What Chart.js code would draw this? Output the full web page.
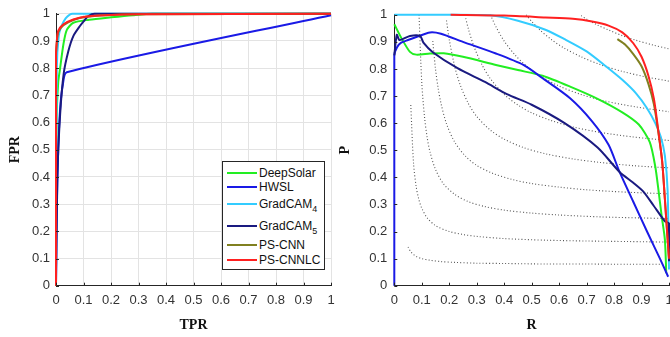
<!DOCTYPE html>
<html>
<head>
<meta charset="utf-8">
<script src="https://cdn.jsdelivr.net/npm/chart.js@4/dist/chart.umd.min.js"></script>
<style>
  html, body { margin: 0; padding: 0; background: #fff; overflow: hidden; width: 670px; height: 337px; }
  #wrap { position: relative; width: 670px; height: 337px; overflow: hidden; }
  #c1 { position: absolute; left: 0; top: 0; }
  #c2 { position: absolute; left: 335px; top: 0; }
  #legend { position: absolute; left: 222px; top: 161px; width: 101px; height: 107px; border: 1px solid #262626; background: #fff; font-family: "Liberation Sans", Arial, sans-serif; font-size: 12px; color: #111; }
  .row { position: absolute; left: 0; height: 14px; display: flex; align-items: center; }
  .sw { width: 30px; height: 2px; margin-left: 4px; margin-right: 2px; }
  .row sub { font-size: 9px; vertical-align: -4px; line-height: 0; }
</style>
</head>
<body>
<div id="wrap">
  <canvas id="c1" width="335" height="337"></canvas>
  <canvas id="c2" width="345" height="337"></canvas>
  <div id="legend"></div>
</div>
<script>
// ---------------- data ----------------
const seriesNames = ['DeepSolar', 'HWSL', 'GradCAM4', 'GradCAM5', 'PS-CNN', 'PS-CNNLC'];
const legendBase = ['DeepSolar', 'HWSL', 'GradCAM', 'GradCAM', 'PS-CNN', 'PS-CNNLC'];
const legendSub = ['', '', '4', '5', '', ''];
const seriesColors = ['#22ee22', '#1a1ae6', '#33ccff', '#1a1a80', '#808020', '#ff2020'];
const tickLabels = ['0', '0.1', '0.2', '0.3', '0.4', '0.5', '0.6', '0.7', '0.8', '0.9', '1'];

// left panel (x: TPR, y: FPR)
const rocDeepSolarX = [0, 0.002, 0.008, 0.015, 0.027, 0.039, 0.063, 0.12, 0.2, 0.28, 0.35, 1];
const rocDeepSolarY = [0, 0.6, 0.747, 0.8, 0.888, 0.94, 0.967, 0.978, 0.987, 0.995, 1, 1];
const rocHWSLX = [0, 0.003, 0.008, 0.015, 0.025, 0.039, 1];
const rocHWSLY = [0, 0.3, 0.5, 0.65, 0.74, 0.785, 0.995];
const rocGradCAM4X = [0, 0.003, 0.01, 0.02, 0.035, 0.05, 0.06, 1];
const rocGradCAM4Y = [0, 0.8, 0.92, 0.955, 0.983, 0.997, 1, 1];
const rocGradCAM5X = [0, 0.005, 0.015, 0.028, 0.045, 0.063, 0.087, 0.105, 0.118, 0.14, 1];
const rocGradCAM5Y = [0, 0.4, 0.63, 0.78, 0.863, 0.918, 0.955, 0.978, 0.992, 1, 1];
const rocPSCNNX = [0, 0, 0.003, 0.008, 0.027, 0.063, 0.11, 0.18, 0.3, 1];
const rocPSCNNY = [0, 0.84, 0.895, 0.932, 0.958, 0.977, 0.989, 0.995, 0.998, 1];
const rocPSCNNLCX = [0, 0, 0.003, 0.008, 0.027, 0.063, 0.11, 0.18, 0.3, 1];
const rocPSCNNLCY = [0, 0.85, 0.9, 0.937, 0.961, 0.979, 0.99, 0.995, 0.998, 1];

// right panel (x: R, y: P)
const prDeepSolarR = [0, 0.027, 0.057, 0.08, 0.13, 0.18, 0.25, 0.37, 0.45, 0.54, 0.64, 0.74, 0.83, 0.89, 0.93, 0.95, 0.962, 0.973, 0.985, 0.99];
const prDeepSolarP = [0.965, 0.912, 0.863, 0.853, 0.857, 0.858, 0.845, 0.815, 0.796, 0.775, 0.735, 0.69, 0.64, 0.595, 0.53, 0.44, 0.35, 0.26, 0.17, 0.046];
const prHWSLR = [0, 0, 0.01, 0.025, 0.05, 0.08, 0.13, 0.17, 0.25, 0.37, 0.47, 0.54, 0.64, 0.72, 0.78, 0.82, 0.87, 0.92, 0.967, 0.997];
const prHWSLP = [0, 0.85, 0.88, 0.897, 0.907, 0.918, 0.935, 0.93, 0.9, 0.857, 0.815, 0.766, 0.692, 0.607, 0.52, 0.42, 0.31, 0.2, 0.1, 0.033];
const prGradCAM4R = [0, 0.2, 0.35, 0.45, 0.55, 0.62, 0.7, 0.77, 0.83, 0.88, 0.92, 0.95, 0.97, 0.985, 0.995, 1];
const prGradCAM4P = [1, 1, 0.998, 0.978, 0.945, 0.91, 0.865, 0.81, 0.76, 0.71, 0.655, 0.6, 0.55, 0.48, 0.35, 0.06];
const prGradCAM5R = [0, 0.009, 0.018, 0.03, 0.057, 0.094, 0.106, 0.14, 0.23, 0.33, 0.41, 0.5, 0.62, 0.74, 0.82, 0.87, 0.906, 0.943, 0.985, 1, 1];
const prGradCAM5P = [0.85, 0.926, 0.907, 0.91, 0.922, 0.922, 0.897, 0.862, 0.803, 0.752, 0.707, 0.668, 0.6, 0.51, 0.42, 0.38, 0.348, 0.297, 0.238, 0.23, 0.09];
const prPSCNNR = [0.812, 0.84, 0.87, 0.9, 0.925, 0.945, 0.96, 0.975, 0.985, 0.993, 1];
const prPSCNNP = [0.91, 0.89, 0.855, 0.81, 0.745, 0.67, 0.575, 0.46, 0.32, 0.2, 0.1];
const prPSCNNLCR = [0.205, 0.4, 0.55, 0.65, 0.72, 0.78, 0.83, 0.87, 0.9, 0.925, 0.945, 0.96, 0.975, 0.985, 0.993, 1];
const prPSCNNLCP = [1, 0.997, 0.99, 0.985, 0.975, 0.96, 0.935, 0.895, 0.845, 0.775, 0.69, 0.58, 0.46, 0.32, 0.2, 0.1];

// dotted reference curves, read as [R, P] pairs
const iso1 = [[0.05,0.143],[0.06,0.125],[0.07,0.115],[0.08,0.108],[0.1,0.1],[0.13,0.094],[0.17,0.089],[0.22,0.086],[0.3,0.083],[0.4,0.082],[0.55,0.080],[0.7,0.080],[0.85,0.079],[1,0.079]];
const iso2 = [[0.06,0.667],[0.07,0.452],[0.08,0.364],[0.09,0.316],[0.1,0.286],[0.12,0.25],[0.15,0.222],[0.2,0.2],[0.25,0.189],[0.3,0.182],[0.4,0.174],[0.55,0.168],[0.7,0.165],[0.85,0.163],[1,0.161]];
const iso3 = [[0.09,1.0],[0.1,0.75],[0.11,0.623],[0.12,0.545],[0.13,0.494],[0.15,0.429],[0.18,0.375],[0.22,0.337],[0.27,0.31],[0.33,0.292],[0.4,0.279],[0.5,0.268],[0.6,0.261],[0.75,0.254],[0.9,0.25],[1,0.248]];
const iso4 = [[0.14,0.903],[0.15,0.8],[0.16,0.727],[0.17,0.673],[0.19,0.598],[0.22,0.53],[0.26,0.477],[0.3,0.444],[0.36,0.414],[0.43,0.392],[0.5,0.377],[0.6,0.364],[0.7,0.354],[0.85,0.345],[1,0.339]];
const iso5 = [[0.19,0.979],[0.2,0.909],[0.22,0.809],[0.24,0.741],[0.27,0.672],[0.3,0.625],[0.35,0.574],[0.4,0.541],[0.47,0.51],[0.55,0.487],[0.65,0.468],[0.75,0.455],[0.87,0.443],[1,0.435]];
const iso6 = [[0.26,0.987],[0.27,0.947],[0.29,0.883],[0.32,0.814],[0.35,0.764],[0.4,0.706],[0.45,0.667],[0.5,0.638],[0.57,0.61],[0.65,0.586],[0.75,0.566],[0.87,0.549],[1,0.536]];
const iso7 = [[0.35,1.0],[0.37,0.956],[0.4,0.903],[0.44,0.851],[0.48,0.812],[0.53,0.775],[0.6,0.737],[0.68,0.706],[0.77,0.681],[0.88,0.66],[1,0.642]];
const iso8 = [[0.48,1.0],[0.5,0.976],[0.53,0.944],[0.57,0.91],[0.62,0.876],[0.68,0.845],[0.75,0.816],[0.83,0.791],[0.91,0.772],[1,0.755]];
const iso9 = [[0.68,0.997],[0.7,0.984],[0.74,0.962],[0.78,0.944],[0.83,0.923],[0.88,0.906],[0.94,0.889],[1,0.874]];

// ---------------- build ----------------
const zipXY = (xs, ys) => xs.map((x, i) => ({ x: x, y: ys[i] }));
const pairs = (arr) => arr.map(p => ({ x: p[0], y: p[1] }));

const rocSets = [
  [rocDeepSolarX, rocDeepSolarY], [rocHWSLX, rocHWSLY], [rocGradCAM4X, rocGradCAM4Y],
  [rocGradCAM5X, rocGradCAM5Y], [rocPSCNNX, rocPSCNNY], [rocPSCNNLCX, rocPSCNNLCY]
];
const prSets = [
  [prDeepSolarR, prDeepSolarP], [prHWSLR, prHWSLP], [prGradCAM4R, prGradCAM4P],
  [prGradCAM5R, prGradCAM5P], [prPSCNNR, prPSCNNP], [prPSCNNLCR, prPSCNNLCP]
];
const drawOrder = [6, 5, 4, 3, 2, 1];

function mainDatasets(sets) {
  return sets.map((s, i) => ({
    label: seriesNames[i],
    data: zipXY(s[0], s[1]),
    borderColor: seriesColors[i],
    backgroundColor: seriesColors[i],
    borderWidth: 2,
    pointRadius: 0,
    tension: 0.25,
    fill: false,
    order: drawOrder[i],
    clip: 4
  }));
}

const isoSets = [iso1, iso2, iso3, iso4, iso5, iso6, iso7, iso8, iso9].map((c, i) => ({
  label: 'iso' + (i + 1),
  data: pairs(c),
  borderColor: '#555555',
  borderWidth: 1.1,
  borderDash: [1, 2.2],
  pointRadius: 0,
  tension: 0.3,
  fill: false,
  order: 20,
  clip: 2
}));

const tickFont = { family: '"Liberation Sans", Arial, sans-serif', size: 13 };
const titleFont = { family: '"Liberation Serif", "Times New Roman", serif', size: 14, weight: 'bold' };

const innerTicks = {
  id: 'innerTicks',
  afterDatasetsDraw(chart) {
    const { ctx, chartArea: a, scales } = chart;
    ctx.save();
    ctx.strokeStyle = '#262626';
    ctx.lineWidth = 1;
    ctx.beginPath();
    tickLabels.forEach((t, i) => {
      const v = i / 10;
      const px = Math.round(scales.x.getPixelForValue(v)) + 0.5;
      const py = Math.round(scales.y.getPixelForValue(v)) + 0.5;
      ctx.moveTo(px, a.bottom); ctx.lineTo(px, a.bottom - 3);
      ctx.moveTo(a.left, py); ctx.lineTo(a.left + 3, py);
    });
    ctx.stroke();
    ctx.restore();
  }
};

function makeOptions(cfg) {
  return {
    responsive: false,
    animation: false,
    devicePixelRatio: 1,
    layout: { padding: { top: 12.7, right: cfg.padRight, bottom: 0, left: 0 } },
    plugins: { legend: { display: false }, tooltip: { enabled: false } },
    scales: {
      x: {
        type: 'linear', min: 0, max: 1,
        afterFit: s => { s.height = 337 - 285.7; s.paddingRight = 0; s.paddingLeft = 0; },
        ticks: { stepSize: 0.1, autoSkip: false, maxRotation: 0, padding: 7, color: '#333', font: tickFont,
                 callback: (v) => tickLabels[Math.round(v * 10)] },
        grid: { display: cfg.grid, color: '#e3e3e3', drawTicks: false },
        border: { display: true, color: '#262626', width: 1 },
        title: { display: true, text: cfg.xTitle, color: '#111', font: titleFont, padding: { top: 0, bottom: 3.6 } }
      },
      y: {
        type: 'linear', min: 0, max: 1,
        afterFit: s => { s.width = cfg.yWidth; },
        ticks: { stepSize: 0.1, autoSkip: false, padding: cfg.yPad, color: '#333', font: tickFont,
                 callback: (v) => tickLabels[Math.round(v * 10)] },
        grid: { display: cfg.grid, color: '#e3e3e3', drawTicks: false },
        border: { display: true, color: '#262626', width: 1 },
        title: { display: true, text: cfg.yTitle, color: '#111', font: titleFont, padding: { top: cfg.yTitlePad, bottom: 0 } }
      }
    }
  };
}

new Chart(document.getElementById('c1'), {
  type: 'line',
  data: { datasets: mainDatasets(rocSets) },
  options: makeOptions({ padRight: 4, grid: true, xTitle: 'TPR', yTitle: 'FPR', yWidth: 56, yPad: 6, yTitlePad: 7 }),
  plugins: [innerTicks]
});

new Chart(document.getElementById('c2'), {
  type: 'line',
  data: { datasets: mainDatasets(prSets).concat(isoSets) },
  options: makeOptions({ padRight: 11, grid: false, xTitle: 'R', yTitle: 'P', yWidth: 59.3, yPad: 7, yTitlePad: 1.6 }),
  plugins: [innerTicks]
});

// legend (HTML, with subscripts)
const rowCenters = [10.5, 25, 41.5, 63.5, 82.5, 98];
const legend = document.getElementById('legend');
seriesNames.forEach((n, i) => {
  const row = document.createElement('div');
  row.className = 'row';
  row.style.top = (rowCenters[i] - 7) + 'px';
  const sw = document.createElement('span');
  sw.className = 'sw';
  sw.style.background = seriesColors[i];
  const tx = document.createElement('span');
  tx.textContent = legendBase[i];
  if (legendSub[i]) {
    const sb = document.createElement('sub');
    sb.textContent = legendSub[i];
    tx.appendChild(sb);
  }
  row.appendChild(sw);
  row.appendChild(tx);
  legend.appendChild(row);
});
</script>
</body>
</html>
